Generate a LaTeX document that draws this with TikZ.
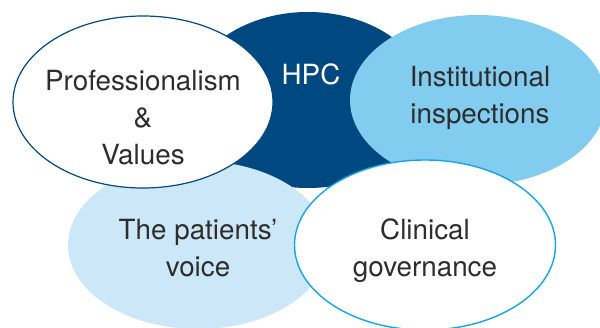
\documentclass[tikz,border=0pt]{standalone}
\usepackage{fontspec}
\setmainfont{TeX Gyre Heros}
\usetikzlibrary{shapes.geometric}

\definecolor{hpcblue}{RGB}{0,72,128}
\definecolor{inspblue}{RGB}{130,204,240}
\definecolor{voiceblue}{RGB}{204,232,248}
\definecolor{govcyan}{RGB}{20,166,228}
\definecolor{textgray}{RGB}{45,45,45}

\begin{document}
\begin{tikzpicture}[
  x=1pt,
  y=-1pt,
  bubble/.style={
    ellipse,
    inner sep=0pt,
    minimum width=260pt,
    minimum height=172pt
  },
  bubbletext/.style={
    text=textgray,
    align=center,
    font={\fontsize{27.8}{37}\selectfont}
  }]
  \useasboundingbox (0,0) rectangle (600,327);
  % back to front
  \node[bubble, fill=hpcblue, minimum width=240pt, minimum height=176pt,
    label={[bubbletext, name=hpc-text, text=white, xshift=3pt, yshift=26pt]center:HPC}]
    (hpc) at (308,100) {};
  \node[bubble, fill=voiceblue, minimum height=168pt,
    label={[bubbletext, name=voice-text, yshift=-3pt]center:{The patients’\\voice}}]
    (voice) at (198,245) {};
  \node[bubble, fill=inspblue, minimum width=256pt, minimum height=170pt,
    label={[bubbletext, name=insp-text, xshift=2pt, yshift=2pt]center:{Institutional\\inspections}}]
    (insp) at (478,100) {};
  \node[bubble, fill=white, draw=hpcblue, line width=1.2pt,
    label={[bubbletext, name=prof-text, yshift=-16pt]center:{Professionalism\\\&\\Values}}]
    (prof) at (143,102) {};
  \node[bubble, fill=white, draw=govcyan, line width=1.4pt, minimum width=261pt, minimum height=170pt,
    label={[bubbletext, name=gov-text, yshift=-6pt]center:{Clinical\\governance}}]
    (gov) at (425,245) {};
\end{tikzpicture}
\end{document}
